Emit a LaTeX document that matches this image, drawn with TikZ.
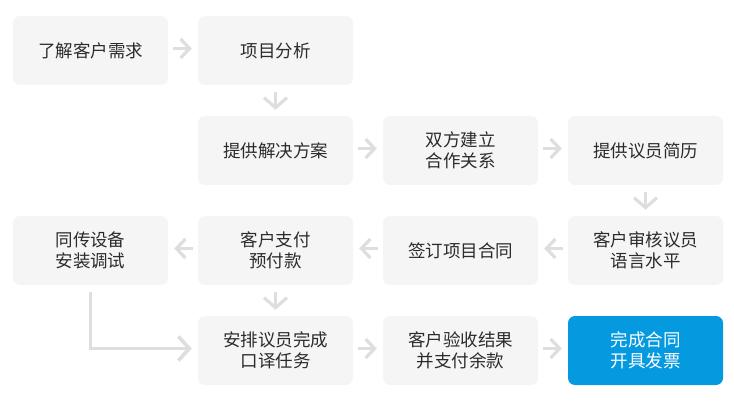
\documentclass[tikz,border=0pt]{standalone}
\usepackage{fontspec}
\setmainfont{Noto Sans CJK SC}
\usetikzlibrary{arrows.meta}
\definecolor{boxfill}{HTML}{F5F5F5}
\definecolor{txt}{HTML}{2B2B2B}
\definecolor{arrgray}{HTML}{DEDEDE}
\definecolor{blu}{HTML}{059AE0}
\tikzset{
  stepbox/.style={fill=boxfill, rounded corners=7pt, minimum width=155pt, minimum height=69pt,
    inner sep=0pt, align=center, text=txt, font=\fontsize{17.5pt}{20.5pt}\selectfont},
  finalbox/.style={stepbox, fill=blu, text=white},
  harr/.style={draw=arrgray, line width=3.2pt, -{Straight Barb[length=9pt,width=19pt]}, shorten <=5pt, shorten >=6pt},
  varr/.style={draw=arrgray, line width=3.2pt, -{Straight Barb[length=10pt,width=23pt]}, shorten <=7pt, shorten >=6pt},
  larr/.style={draw=arrgray, line width=3.6pt, -{Straight Barb[length=11pt,width=24pt]}, shorten <=7pt, shorten >=6pt},
}
\begin{document}
\begin{tikzpicture}[x=1pt,y=-1pt]
\useasboundingbox (0,0) rectangle (734,401);
\node[stepbox] (c11) at (90.5,50.5) {了解客户需求};
\node[stepbox] (c12) at (275.5,50.5) {项目分析};
\node[stepbox] (c22) at (275.5,150.5) {提供解决方案};
\node[stepbox] (c23) at (460.5,150.5) {双方建立\\合作关系};
\node[stepbox] (c24) at (645.5,150.5) {提供议员简历};
\node[stepbox] (c31) at (90.5,250.5) {同传设备\\安装调试};
\node[stepbox] (c32) at (275.5,250.5) {客户支付\\预付款};
\node[stepbox] (c33) at (460.5,250.5) {签订项目合同};
\node[stepbox] (c34) at (645.5,250.5) {客户审核议员\\语言水平};
\node[stepbox] (c42) at (275.5,350.5) {安排议员完成\\口译任务};
\node[stepbox] (c43) at (460.5,350.5) {客户验收结果\\并支付余款};
\node[finalbox] (c44) at (645.5,350.5) {完成合同\\开具发票};

\draw[harr] ([yshift=2pt]c11.east) -- ([yshift=2pt]c12.west);
\draw[varr] (c12.south) -- (c22.north);
\draw[harr] ([yshift=2pt]c22.east) -- ([yshift=2pt]c23.west);
\draw[harr] ([yshift=2pt]c23.east) -- ([yshift=2pt]c24.west);
\draw[varr] (c24.south) -- (c34.north);
\draw[harr] ([yshift=2pt]c34.west) -- ([yshift=2pt]c33.east);
\draw[harr] ([yshift=2pt]c33.west) -- ([yshift=2pt]c32.east);
\draw[harr] ([yshift=2pt]c32.west) -- ([yshift=2pt]c31.east);
\draw[varr] (c32.south) -- (c42.north);
\draw[larr] (c31.south) |- ([yshift=2pt]c42.west);
\draw[harr] ([yshift=2pt]c42.east) -- ([yshift=2pt]c43.west);
\draw[harr] ([yshift=2pt]c43.east) -- ([yshift=2pt]c44.west);
\end{tikzpicture}
\end{document}
